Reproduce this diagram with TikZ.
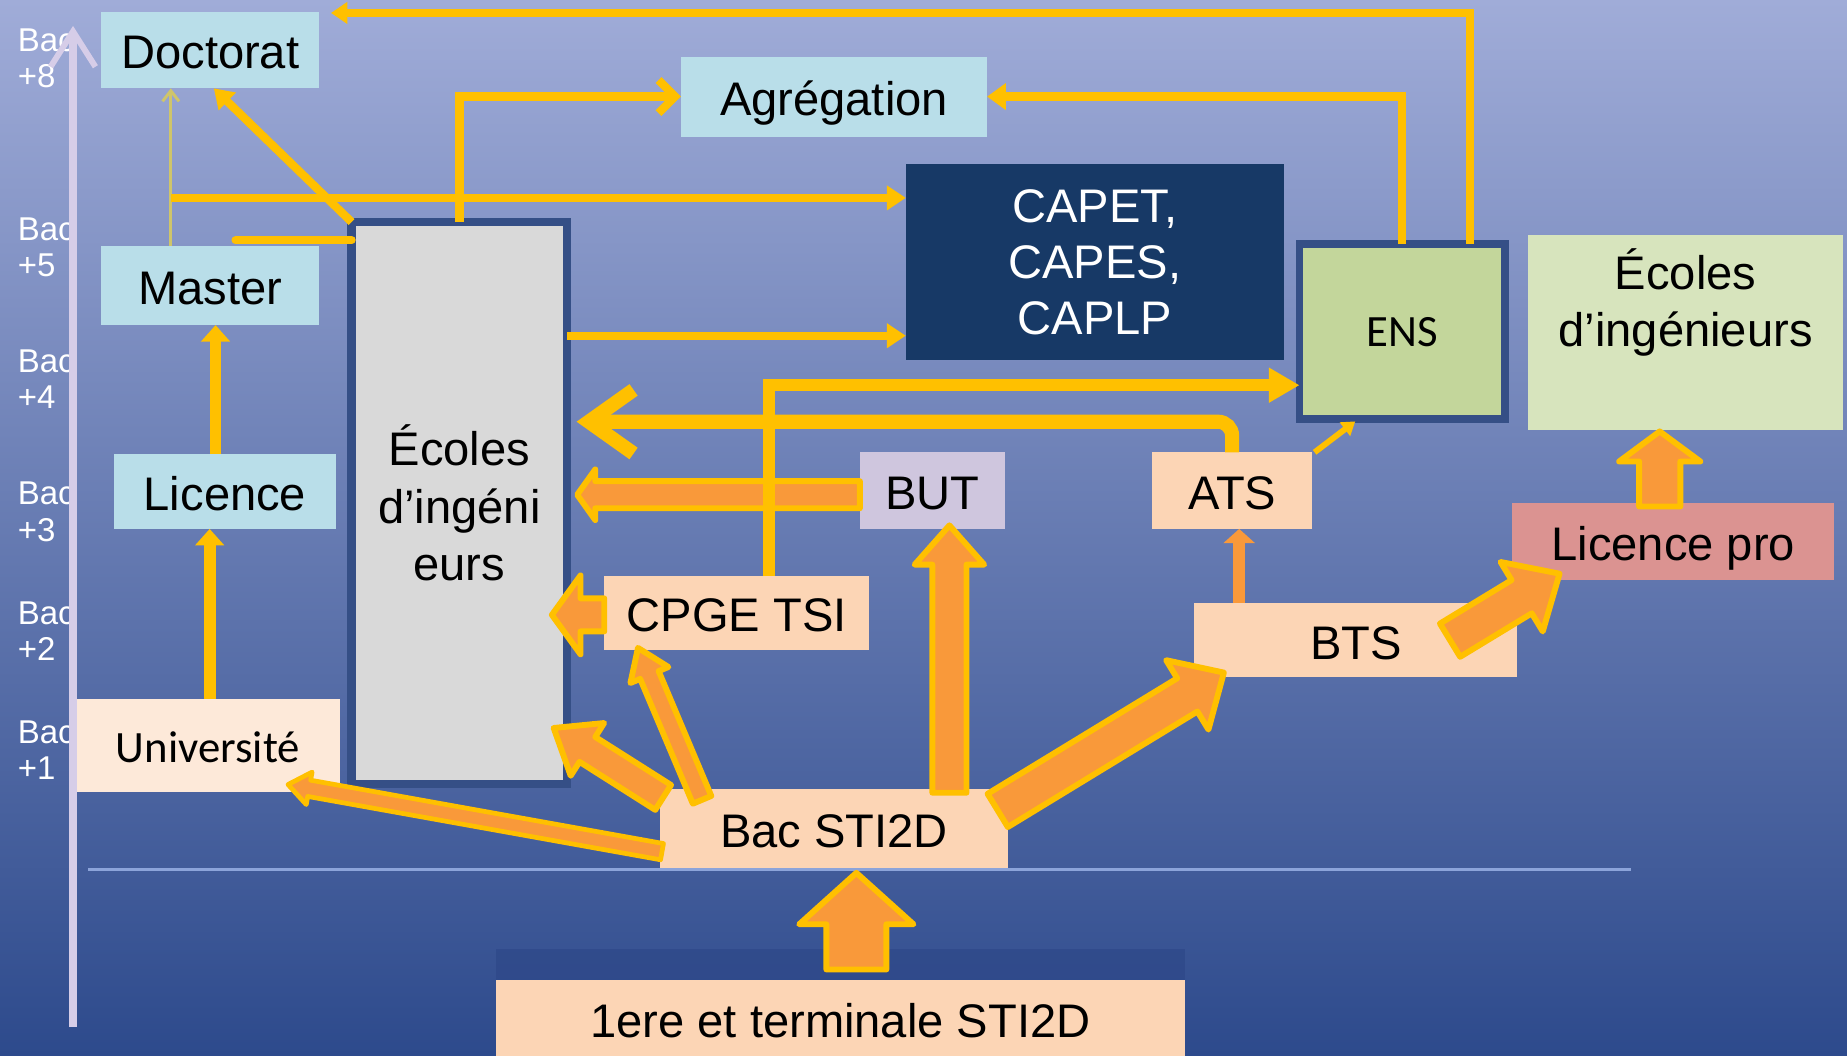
\documentclass[tikz,border=0pt]{standalone}
\usepackage{fontspec}
\setmainfont{Liberation Sans}
\newfontfamily\calfont{Carlito}
\usetikzlibrary{arrows.meta,shapes.arrows,calc}
\definecolor{yl}{HTML}{FFC000}
\definecolor{orng}{HTML}{F9993A}
\definecolor{lblue}{HTML}{B9DEE9}
\definecolor{navy}{HTML}{173966}
\definecolor{ensg}{HTML}{C3D69B}
\definecolor{ecrg}{HTML}{D7E4BD}
\definecolor{greyb}{HTML}{D9D9D9}
\definecolor{lav}{HTML}{CFC6DE}
\definecolor{peach}{HTML}{FCD5B5}
\definecolor{upeach}{HTML}{FDE9D9}
\definecolor{pinkr}{HTML}{DB9391}
\definecolor{bord}{HTML}{354F86}
\definecolor{bgT}{HTML}{A0ACD8}
\definecolor{bgM}{HTML}{5C72AD}
\definecolor{bgB}{HTML}{2D4A8C}
\definecolor{hl}{HTML}{8CA4DA}
\definecolor{bandc}{HTML}{2C4687}
\definecolor{axc}{HTML}{D6CDE8}
\definecolor{olv}{HTML}{CFC56A}
\newcommand\fA{\fontsize{40pt}{49pt}\selectfont}
\newcommand\fB{\fontsize{28pt}{31pt}\selectfont}
\newcommand\fC{\calfont\fontsize{38pt}{46pt}\selectfont}
% block arrow: [extra]{from}{to}{half shaft}{head extend}{tip angle}
\newcommand\blk[6][]{%
  \path let \p1=(#2), \p2=(#3),
    \n1={atan2(\y2-\y1,\x2-\x1)}, \n2={veclen(\x2-\x1,\y2-\y1)} in
    node[barrow,#1,rotate=\n1,minimum height=\n2,inner ysep=#4pt,
      single arrow head extend=#5pt,single arrow tip angle=#6,anchor=tail] at (\p1) {};}
\begin{document}
\begin{tikzpicture}[x=1pt,y=-1pt,
  bx/.style={rectangle,inner sep=0pt,outer sep=0pt,align=center,text=black,font=\fA},
  one/.style={text height=36pt,text depth=4pt},
  barrow/.style={single arrow,draw=yl,fill=orng,line width=5pt,inner xsep=0pt,
    outer sep=0pt,minimum width=0pt,single arrow head indent=0pt,line join=round},
  ln/.style={draw=yl,line width=7pt},
  lbl/.style={text=white,font=\fB,align=left,anchor=west,inner sep=0pt}]
\useasboundingbox (0,0) rectangle (1568,896);
\shade[top color=bgT,middle color=bgM,bottom color=bgB] (0,0) rectangle (1568,896);
\draw[draw=hl,line width=2.5pt] (75,738) -- (1385,738);
\fill[bandc,opacity=0.6] (421,806) rectangle (1006,832);

% nodes
\node[bx,one,fill=lblue,minimum width=185pt,minimum height=65pt] (doct) at (178.5,42.5) {Doctorat};
\node[bx,one,fill=lblue,minimum width=260pt,minimum height=68pt] (agreg) at (708,82) {Agrégation};
\node[bx,fill=navy,text=white,minimum width=321pt,minimum height=167pt,font=\fontsize{40pt}{47.5pt}\selectfont] (capet) at (929.5,222.5) {CAPET,\\CAPES,\\CAPLP};
\node[bx,fill=ensg,draw=bord,line width=6.5pt,minimum width=174.5pt,minimum height=148.5pt,font=\fC,text height=32pt,text depth=6pt] (ens) at (1190.5,281.5) {ENS};
\node[bx,fill=ecrg,minimum width=268pt,minimum height=165.5pt] (ecr) at (1431,282.5) {Écoles\\d’ingénieurs\\[11pt]\mbox{}};
\node[bx,one,fill=lblue,minimum width=185pt,minimum height=67pt] (master) at (178.5,242.5) {Master};
\node[bx,one,fill=lblue,minimum width=188pt,minimum height=64pt] (lic) at (191,417) {Licence};
\node[bx,fill=greyb,draw=bord,line width=7pt,minimum width=183pt,minimum height=477pt] (ecl) at (390,427) {Écoles\\d’ingéni\\eurs};
\node[bx,one,fill=lav,minimum width=123pt,minimum height=65pt] (but) at (791.5,416.5) {BUT};
\node[bx,one,fill=peach,minimum width=136pt,minimum height=65pt] (ats) at (1046,416.5) {ATS};
\node[bx,one,fill=peach,minimum width=225pt,minimum height=63pt] (cpge) at (625.5,520.5) {CPGE TSI};
\node[bx,one,fill=peach,minimum width=274pt,minimum height=63pt] (bts) at (1151,543.5) {BTS};
\node[bx,one,fill=pinkr,minimum width=273pt,minimum height=65pt] (lpro) at (1420.5,459.5) {Licence pro};
\node[bx,fill=upeach,minimum width=225pt,minimum height=79pt,font=\fC,text height=33pt,text depth=4pt] (univ) at (176.5,632.5) {Université};
\node[bx,one,fill=peach,minimum width=296pt,minimum height=67pt] (bac) at (708,703.5) {Bac STI2D};
\node[bx,one,fill=peach,minimum width=585pt,minimum height=66pt] (term) at (713.5,865) {1ere et terminale STI2D};

% block arrows
\blk{[xshift=3pt,yshift=-7pt]bac.north west}{[xshift=-11.5pt,yshift=47.5pt]ecl.south east}{10}{14}{76}
\blk{[xshift=36pt,yshift=-9pt]bac.north west}{[xshift=28.6pt,yshift=2pt]cpge.south west}{6}{9}{70}
\blk{[xshift=98pt,yshift=-3pt]bac.north}{[xshift=14.5pt,yshift=3pt]but.south}{12}{15}{83}
\blk{[xshift=-9pt,yshift=-18pt]bac.north east}{[xshift=25pt,yshift=4pt]bts.south west}{14}{18}{87}
\blk[line width=4pt]{[xshift=2pt,yshift=14pt]bac.south west}{[xshift=68pt,yshift=6pt]univ.south}{5}{7}{75}
\blk{[xshift=-57pt]bts.east}{[xshift=40pt,yshift=5pt]lpro.south west}{14}{18}{85}
\blk{[xshift=-11.5pt,yshift=-3pt]lpro.north}{[xshift=-22pt,yshift=-1pt]ecr.south}{15}{17}{107}
\blk{[xshift=13.5pt,yshift=9pt]term.north}{[xshift=19pt,yshift=-4pt]bac.south}{23}{23}{96}
\blk{[yshift=-3.5pt]but.west}{[xshift=8.5pt,yshift=7pt]ecl.east}{9}{10}{109}
\blk{[yshift=-1.5pt]cpge.west}{[xshift=-13pt,yshift=-95pt]ecl.east}{11.5}{19.5}{108}

% line connectors
\coordinate (mT) at ([xshift=-33.5pt]master.north);
\coordinate (dB) at ([xshift=-33.5pt]doct.south);
\coordinate (capA) at ([yshift=-29pt]capet.north west);
\coordinate (capB) at ([yshift=21pt]capet.south west);
\coordinate (stub) at (200,204);
\coordinate (ensT) at ([xshift=57.5pt]ens.north);
\coordinate (docT) at ([xshift=10pt,yshift=-1pt]doct.north east);
\coordinate (cT) at ([xshift=27.5pt]cpge.north);
\coordinate (eW) at ([yshift=-45.5pt]ens.west);
\coordinate (eE) at ([xshift=8pt,yshift=69pt]ecl.east);
\coordinate (bN) at ([xshift=-99pt]bts.north);
\coordinate (uN) at ([xshift=1.5pt]univ.north);
\coordinate (lN) at ([xshift=-8pt]lic.north);

\draw[ln,-{Triangle[length=14pt,width=18pt]}] (ensT) |- (docT);
\draw[ln,-{Triangle[length=16pt,width=22pt]}] (ens.north) |- (agreg.east);
\draw[ln,-{Straight Barb[length=14pt,width=28pt]}] (ecl.north) |- (agreg.west);
\draw[draw=olv,line width=2.5pt,-{Straight Barb[length=9pt,width=14pt]}] (mT) -- (dB);
\draw[ln,-{Triangle[length=16pt,width=20pt]}] (mT |- capA) -- (capA);
\draw[ln,-{Triangle[length=16pt,width=20pt]}] (ecl.north west) -- ([xshift=3pt]doct.south);
\draw[ln,line cap=round] (ecl.west |- stub) -- (stub);
\draw[ln,-{Triangle[length=16pt,width=20pt]}] (ecl.east |- capB) -- (capB);
\draw[ln,line width=12pt,rounded corners=12pt,-{Straight Barb[length=38pt,width=54pt]}] (ats.north) |- (eE);
\draw[ln,line width=10pt,-{Triangle[length=26pt,width=28pt]}] (cT) |- (eW);
\draw[draw=orng,line width=10pt,-{Triangle[length=12pt,width=26pt]}] (bN) -- (bN |- ats.south);
\draw[ln,line width=5pt,-{Triangle[length=11pt,width=14pt]}] ([xshift=2pt]ats.north east) -- ([xshift=-40pt,yshift=-2pt]ens.south);
\draw[ln,line width=10pt,-{Triangle[length=14pt,width=24pt]}] (uN) -- (uN |- lic.south);
\draw[ln,line width=10pt,-{Triangle[length=14pt,width=24pt]}] (lN) -- (lN |- master.south);

% level labels and axis
\node[lbl] (b8) at (15,49.5) {Bac\\+8};
\node[lbl] (b5) at (15,210) {Bac\\+5};
\node[lbl] (b4) at (15,322) {Bac\\+4};
\node[lbl] (b3) at (15,434.5) {Bac\\+3};
\node[lbl] (b2) at (15,536) {Bac\\+2};
\node[lbl] (b1) at (15,637) {Bac\\+1};
\coordinate (axB) at (62,872);
\coordinate (axT) at (62,22);
\draw[draw=axc,line width=7pt,-{Straight Barb[length=30pt,width=38pt,line width=5pt]}] (axB) -- (axT);
\end{tikzpicture}
\end{document}
